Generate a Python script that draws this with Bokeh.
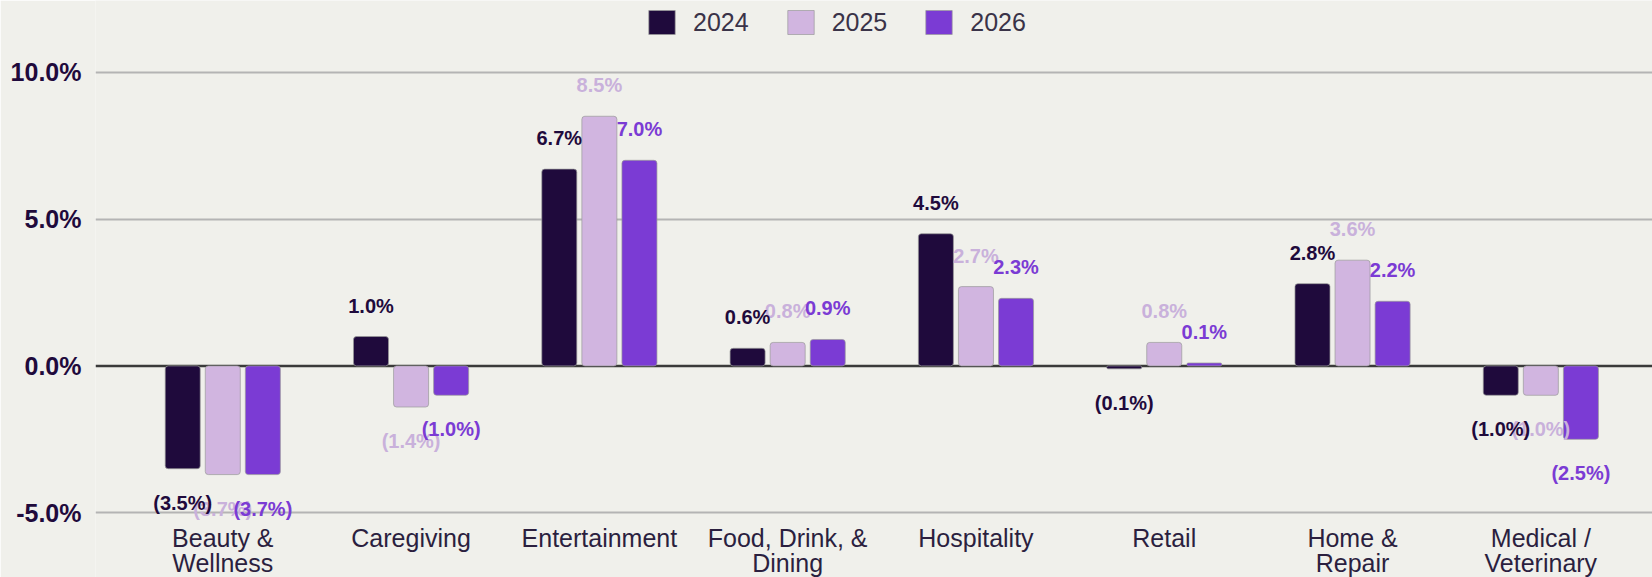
from bokeh.plotting import figure
from bokeh.models import (ColumnDataSource, LabelSet, Legend, LegendItem,
                          FixedTicker, Span, Range1d)
from bokeh.core.properties import value
from bokeh.embed import file_html
from bokeh.resources import INLINE

# ---------------- data ----------------
categories = ["Beauty &\nWellness", "Caregiving", "Entertainment",
              "Food, Drink, &\nDining", "Hospitality", "Retail",
              "Home &\nRepair", "Medical /\nVeterinary"]
years = ["2024", "2025", "2026"]
v2024 = [-3.5, 1.0, 6.7, 0.6, 4.5, -0.1, 2.8, -1.0]
v2025 = [-3.7, -1.4, 8.5, 0.8, 2.7, 0.8, 3.6, -1.0]
v2026 = [-3.7, -1.0, 7.0, 0.9, 2.3, 0.1, 2.2, -2.5]
y_ticks = [-5, 0, 5, 10]
y_tick_labels = ["-5.0%", "0.0%", "5.0%", "10.0%"]

# ---------------- style ----------------
BG = "#f0f0eb"
COLORS = ["#1f0a3c", "#d1b5e0", "#7b3bd4"]
LABEL_COLORS = ["#1f0a3c", "#c9b1db", "#7b3bd4"]
FONT = "Liberation Sans"
PITCH = 0.2128
BAR_W = 0.186
FRAME_H = 577


def fmt(v):
    return f"({abs(v):.1f}%)" if v < 0 else f"{v:.1f}%"


p = figure(width=1652, height=577, output_backend="svg", toolbar_location=None,
           x_range=Range1d(-0.676, 7.593), y_range=Range1d(-7.204, 12.441),
           min_border_left=95, min_border_right=0, min_border_top=0,
           min_border_bottom=0,
           background_fill_color=BG, border_fill_color=BG,
           outline_line_color=None)

zero = Span(location=0, dimension="width", line_color="#3a3a3a",
            line_width=2.5, level="underlay")
p.add_layout(zero)

series = [v2024, v2025, v2026]
renderers = []
sources = []
for j, vals in enumerate(series):
    src = ColumnDataSource(dict(
        x=[i + (j - 1) * PITCH for i in range(len(categories))],
        top=vals,
        label=[fmt(v) for v in vals],
        off=[31 if v >= 0 else -34 for v in vals],
    ))
    r = p.vbar(x="x", top="top", bottom=0, width=BAR_W, source=src,
               fill_color=COLORS[j], line_color="#9a9a9a", line_width=1,
               line_alpha=0.7, border_radius=3)
    renderers.append(r)
    sources.append(src)

# value labels: 2025 first, then 2024, then 2026 on top
for j in [1, 0, 2]:
    ls = LabelSet(x="x", y="top", text="label", y_offset="off",
                  source=sources[j], text_align="center",
                  text_baseline="middle", text_font=value(FONT),
                  text_font_size="20px", text_font_style="bold",
                  text_color=LABEL_COLORS[j])
    p.add_layout(ls)

# category labels below the -5% line, one centred line at a time
first_lines = [c.split("\n")[0] for c in categories]
second_lines = [c.split("\n")[1] if "\n" in c else "" for c in categories]
for lines, off in [(first_lines, -34.4), (second_lines, -59.5)]:
    src = ColumnDataSource(dict(x=list(range(len(categories))),
                                y=[y_ticks[0]] * len(categories),
                                text=lines))
    p.add_layout(LabelSet(x="x", y="y", text="text", source=src,
                          y_offset=off, text_align="center",
                          text_baseline="alphabetic",
                          text_font=value(FONT), text_font_size="25px",
                          text_color="#2b1f3f"))

# axes
p.xaxis.visible = False
p.yaxis.ticker = FixedTicker(ticks=y_ticks)
p.yaxis.major_label_overrides = dict(zip(y_ticks, y_tick_labels))
p.yaxis.axis_line_color = None
p.yaxis.major_tick_line_color = None
p.yaxis.minor_tick_line_color = None
p.yaxis.major_label_text_font = FONT
p.yaxis.major_label_text_font_size = "25px"
p.yaxis.major_label_text_font_style = "bold"
p.yaxis.major_label_text_color = "#1f0a3c"
p.yaxis.major_label_standoff = 8

p.xgrid.grid_line_color = None
p.ygrid.ticker = FixedTicker(ticks=[t for t in y_ticks if t != 0])
p.ygrid.grid_line_color = "#b4b4b4"
p.ygrid.grid_line_width = 2

legend = Legend(items=[LegendItem(label=y, renderers=[r])
                       for y, r in zip(years, renderers)],
                orientation="horizontal", location=(550, FRAME_H - 37),
                glyph_width=33, glyph_height=30, label_standoff=15,
                spacing=35, padding=0, margin=0,
                background_fill_alpha=0, border_line_color=None,
                label_text_font=FONT, label_text_font_size="25px",
                label_text_color="#3a3348")
p.add_layout(legend, "center")

open("out.html", "w").write(file_html(p, INLINE))
